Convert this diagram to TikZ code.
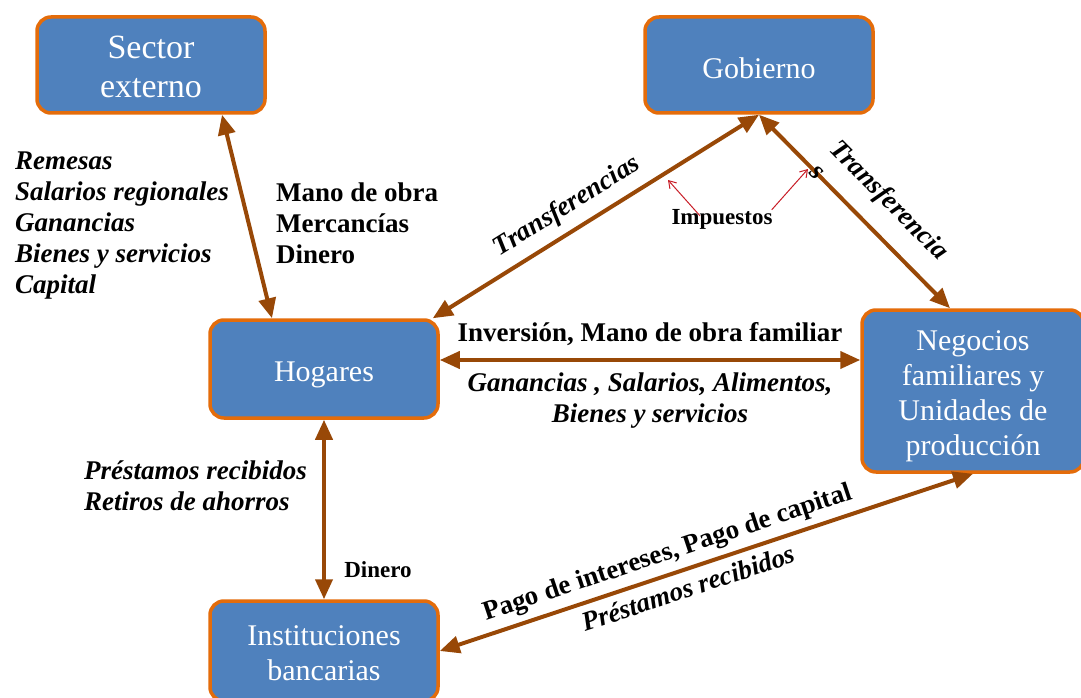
\documentclass[tikz,border=0pt]{standalone}
\usepackage{fontspec}
\setmainfont{Liberation Serif}
\usetikzlibrary{arrows.meta,positioning,calc}

\definecolor{boxblue}{RGB}{79,129,189}
\definecolor{boxorange}{RGB}{228,108,10}
\definecolor{flowbrown}{RGB}{152,72,7}
\definecolor{taxred}{RGB}{200,30,40}

% strut that pushes the first text line of a box down a little
\newcommand{\boxlift}[1]{\rule{0pt}{#1}}

\begin{document}
\begin{tikzpicture}[
    x=1pt, y=-1pt,
    % --- node styles ---
    sectorbox/.style = {rectangle, draw=boxorange, line width=3.5pt,
                        fill=boxblue, rounded corners=14pt, align=center,
                        text=white, minimum width=228pt, minimum height=96pt,
                        inner sep=2pt, font=\fontsize{30}{35}\selectfont},
    flow/.style  = {{Triangle[length=20pt,width=17pt]}-{Triangle[length=20pt,width=17pt]},
                    line width=4pt, draw=flowbrown},
    tax/.style   = {-{Straight Barb[length=7pt,width=9pt]}, line width=1pt, draw=taxred},
    lbl/.style   = {font=\fontsize{27}{31}\selectfont\bfseries, align=left, inner sep=1pt},
    ilbl/.style  = {lbl, font=\fontsize{27}{31}\selectfont\bfseries\itshape},
    smalllbl/.style = {font=\fontsize{23}{27}\selectfont\bfseries, inner sep=1pt},
]
\useasboundingbox (0,0) rectangle (1081,698);
\clip (0,0) rectangle (1081,698);

%============ SECTORS ============
\node (sector) [sectorbox, font=\fontsize{34}{39}\selectfont] at (151,65)
  {\boxlift{27pt}Sector\\externo};
\node (gob) [sectorbox] at (759,65) {\boxlift{28pt}Gobierno};
\node (hogares) [sectorbox, minimum height=98pt] at (324,369) {\boxlift{31pt}Hogares};
\node (negocios) [sectorbox, minimum width=222pt, minimum height=162pt] at (973,391)
  {\boxlift{30pt}Negocios\\familiares y\\Unidades de\\producción};
\node (bancos) [sectorbox, minimum height=100pt] at (324,651)
  {\boxlift{25pt}Instituciones\\bancarias};

%============ FLOWS ============
\draw[flow] ([xshift=71pt]sector.south) -- ([xshift=-52pt]hogares.north);

\draw[flow] ([xshift=-7pt]hogares.north east)
  -- node[ilbl, sloped, above=8pt, pos=0.45] {Transferencias} (gob.south);

\draw[flow] (gob.south)
  -- node[ilbl, sloped, above=16pt, pos=0.56] {Transferencia}
     node[ilbl, sloped, pos=0.3] {s}
  ([xshift=-23pt]negocios.north);

\draw[flow] ([yshift=9pt]hogares.east)
  -- node[lbl, above=11pt] {Inversión, Mano de obra familiar}
     node[ilbl, below=10pt, align=center] {Ganancias , Salarios, Alimentos,\\Bienes y servicios}
  ([yshift=9pt]hogares.east -| negocios.west);

\draw[flow] (hogares.south) -- (bancos.north);

\draw[flow] (bancos.east)
  -- node[lbl, sloped, above=5pt, pos=0.44] {Pago de intereses, Pago de capital}
     node[ilbl, sloped, below=6pt, pos=0.455] {Préstamos recibidos}
  (negocios.south);

%============ SIDE LABELS ============
\node (remesas) [ilbl, anchor=west] at (14,226)
  {Remesas\\Salarios regionales\\Ganancias\\Bienes y servicios\\Capital};
\node (mano) [lbl, anchor=west] at (275,223) {Mano de obra\\Mercancías\\Dinero};
\node (prestamos) [ilbl, anchor=west] at (83,486) {Préstamos recibidos\\Retiros de ahorros};
\node (dinero) [smalllbl] at (378,570) {Dinero};

%============ TAXES ============
\node (imp) [smalllbl] at (722,219) {Impuestos};
\coordinate (impL) at (668,180);
\coordinate (impR) at (808,169);
\draw[tax] ([xshift=-22pt,yshift=-8pt]imp.north) -- (impL);
\draw[tax] ([xshift=-2pt,yshift=-2pt]imp.north east) -- (impR);

\end{tikzpicture}
\end{document}
